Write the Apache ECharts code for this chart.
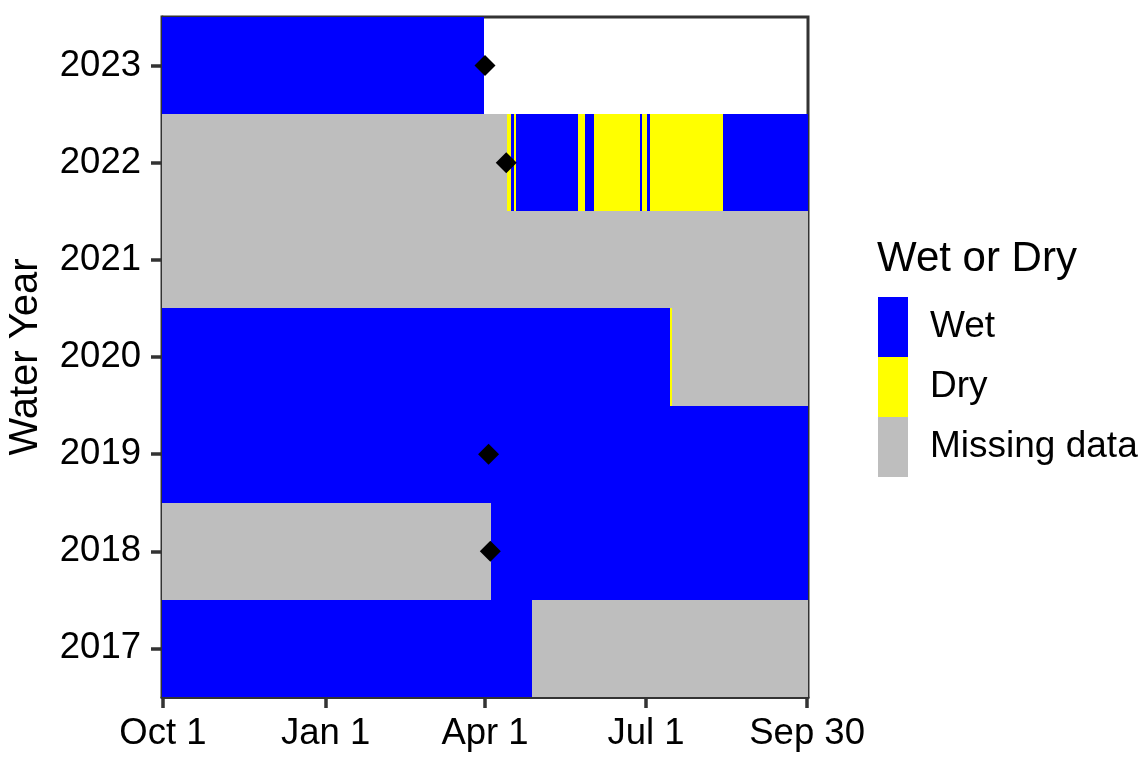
<!DOCTYPE html>
<html>
<head>
<meta charset="utf-8">
<script src="https://cdn.jsdelivr.net/npm/echarts@6/dist/echarts.min.js"></script>
<style>
  html, body { margin: 0; padding: 0; background: #fff; }
  #chart { width: 1146px; height: 765px; }
</style>
</head>
<body>
<div id="chart"></div>
<script>
const YEARS = ['2017', '2018', '2019', '2020', '2021', '2022', '2023']

// [water year, first day, last day] — day 1 = Oct 1, day 365 = Sep 30
const WET_SEGMENTS = [
  ['2017', 1, 209],
  ['2018', 187, 365],
  ['2019', 1, 365],
  ['2020', 1, 287],
  ['2022', 198, 199],
  ['2022', 201, 235],
  ['2022', 240, 244],
  ['2022', 271, 271],
  ['2022', 275, 276],
  ['2022', 318, 365],
  ['2023', 1, 182]
]
const DRY_SEGMENTS = [
  ['2020', 288, 288],
  ['2022', 196, 197],
  ['2022', 200, 200],
  ['2022', 236, 239],
  ['2022', 245, 270],
  ['2022', 272, 274],
  ['2022', 277, 317]
]
const MISSING_SEGMENTS = [
  ['2017', 210, 365],
  ['2018', 1, 186],
  ['2020', 289, 365],
  ['2021', 1, 365],
  ['2022', 1, 195]
]

// site visit days
const VISITS = [
  ['2018', 186],
  ['2019', 185],
  ['2022', 195],
  ['2023', 183]
]

const TICK_DAYS = [1, 93, 183, 274, 365]
const TICK_LABELS = ['Oct 1', 'Jan 1', 'Apr 1', 'Jul 1', 'Sep 30']

const FONT = "'Liberation Sans', Arial, sans-serif"
const AXIS_COLOR = '#333333'

function renderSegment(params, api) {
  const yIdx = api.value(0)
  const start = api.coord([api.value(1) - 0.5, yIdx])
  const end = api.coord([api.value(2) + 0.5, yIdx])
  const band = api.size([0, 1])[1]
  // snap to whole pixels so touching tiles leave no seams
  const x0 = Math.round(start[0])
  const x1 = Math.round(end[0])
  const y0 = Math.round(start[1] - band / 2)
  const y1 = Math.round(start[1] + band / 2)
  return {
    type: 'rect',
    shape: { x: x0, y: y0, width: Math.max(x1 - x0, 1), height: y1 - y0 },
    style: { fill: api.visual('color') }
  }
}

function segmentSeries(name, color, segments) {
  return {
    name,
    type: 'custom',
    renderItem: renderSegment,
    itemStyle: { color },
    encode: { x: [1, 2], y: 0 },
    clip: true,
    data: segments.map(s => [YEARS.indexOf(s[0]), s[1], s[2]])
  }
}

const chart = echarts.init(document.getElementById('chart'), null, { renderer: 'canvas' })

chart.setOption({
  animation: false,
  textStyle: { fontFamily: FONT },
  title: {
    text: 'Wet or Dry',
    left: 877,
    top: 238,
    padding: 0,
    textStyle: { fontFamily: FONT, fontSize: 42, fontWeight: 'normal', color: '#000' }
  },
  legend: {
    orient: 'vertical',
    left: 878,
    top: 297,
    padding: 0,
    itemWidth: 30,
    itemHeight: 60,
    itemGap: 0,
    icon: 'rect',
    selectedMode: false,
    data: ['Wet', 'Dry', 'Missing data'],
    textStyle: { fontFamily: FONT, fontSize: 37, color: '#000', padding: [0, 0, 0, 17] }
  },
  grid: {
    left: 162,
    right: 338,
    top: 17,
    bottom: 68,
    outerBoundsMode: 'none',
    containLabel: false,
    show: true,
    borderColor: AXIS_COLOR,
    borderWidth: 3,
    backgroundColor: 'transparent'
  },
  xAxis: {
    type: 'value',
    min: 0.5,
    max: 365.5,
    splitLine: { show: false },
    axisLine: { show: true, lineStyle: { color: AXIS_COLOR, width: 3 } },
    axisTick: {
      show: true,
      customValues: TICK_DAYS,
      length: 11,
      lineStyle: { color: AXIS_COLOR, width: 3.5 }
    },
    axisLabel: {
      customValues: TICK_DAYS,
      margin: 18,
      fontFamily: FONT,
      fontSize: 36.5,
      color: '#000',
      formatter: v => TICK_LABELS[TICK_DAYS.indexOf(v)]
    }
  },
  yAxis: {
    type: 'category',
    data: YEARS,
    name: 'Water Year',
    nameLocation: 'middle',
    nameRotate: 90,
    nameGap: 116,
    nameTextStyle: { fontFamily: FONT, fontSize: 40, color: '#000' },
    splitLine: { show: false },
    axisLine: { show: true, lineStyle: { color: AXIS_COLOR, width: 3 } },
    axisTick: {
      show: true,
      alignWithLabel: true,
      length: 11,
      lineStyle: { color: AXIS_COLOR, width: 3.5 }
    },
    axisLabel: {
      margin: 21,
      fontFamily: FONT,
      fontSize: 36.5,
      color: '#000'
    }
  },
  series: [
    segmentSeries('Wet', '#0000FF', WET_SEGMENTS),
    segmentSeries('Dry', '#FFFF00', DRY_SEGMENTS),
    segmentSeries('Missing data', '#BEBEBE', MISSING_SEGMENTS),
    {
      name: 'Visit',
      type: 'scatter',
      symbol: 'diamond',
      symbolSize: 21,
      itemStyle: { color: '#000', opacity: 1 },
      z: 5,
      data: VISITS.map(v => [v[1], YEARS.indexOf(v[0])])
    }
  ]
})
</script>
</body>
</html>
